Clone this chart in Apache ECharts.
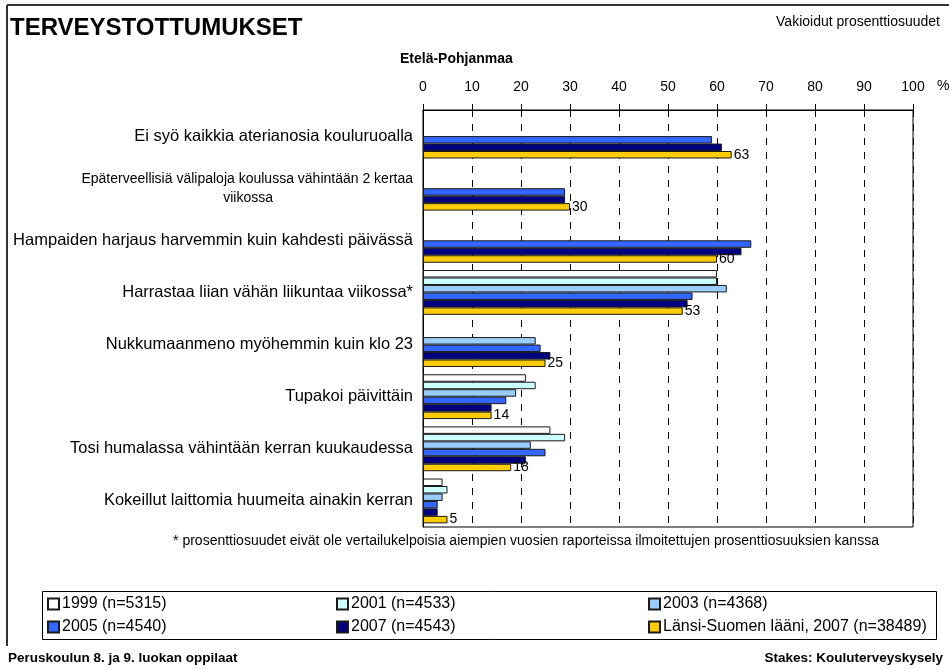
<!DOCTYPE html>
<html>
<head>
<meta charset="utf-8">
<script src="https://cdn.jsdelivr.net/npm/echarts@6/dist/echarts.min.js"></script>
<style>
html,body{margin:0;padding:0;background:#fff;}
#c{width:949px;height:669px;}
</style>
</head>
<body>
<div id="c"></div>
<script>
const categories = [
  "Ei syö kaikkia aterianosia kouluruoalla",
  "Epäterveellisiä välipaloja koulussa vähintään 2 kertaa\nviikossa",
  "Hampaiden harjaus harvemmin kuin kahdesti päivässä",
  "Harrastaa liian vähän liikuntaa viikossa*",
  "Nukkumaanmeno myöhemmin kuin klo 23",
  "Tupakoi päivittäin",
  "Tosi humalassa vähintään kerran kuukaudessa",
  "Kokeillut laittomia huumeita ainakin kerran"
];
const seriesNames = ["1999 (n=5315)", "2001 (n=4533)", "2003 (n=4368)", "2005 (n=4540)", "2007 (n=4543)", "Länsi-Suomen lääni, 2007 (n=38489)"];
const v1999 = [null, null, null, 60, null, 21, 26, 4];
const v2001 = [null, null, null, 60, null, 23, 29, 5];
const v2003 = [null, null, null, 62, 23, 19, 22, 4];
const v2005 = [59, 29, 67, 55, 24, 17, 25, 3];
const v2007 = [61, 29, 65, 54, 26, 14, 21, 3];
const vLansi = [63, 30, 60, 53, 25, 14, 18, 5];
const xTicks = [0, 10, 20, 30, 40, 50, 60, 70, 80, 90, 100];

const values = [v1999, v2001, v2003, v2005, v2007, vLansi];
const colors = ["#ffffff", "#ccffff", "#99ccff", "#3366ff", "#000080", "#ffcc00"];
const FONT = "Liberation Sans, Arial, sans-serif";

const chart = echarts.init(document.getElementById('c'), null, {renderer: 'canvas'});

const series = values.map((vals, i) => ({
  name: seriesNames[i],
  type: 'bar',
  data: vals,
  barGap: '0%',
  barCategoryGap: '14%',
  itemStyle: {color: colors[i], borderColor: '#1a1a1a', borderWidth: 1},
  emphasis: {disabled: true},
  label: i === 5 ? {show: true, position: 'right', distance: 2, color: '#000', fontSize: 14, fontFamily: FONT} : {show: false},
  animation: false
}));

const legendPos = [
  {left: 47, top: 596}, {left: 336, top: 596}, {left: 648, top: 596},
  {left: 47, top: 619}, {left: 336, top: 619}, {left: 648, top: 619}
];
const legends = seriesNames.map((n, i) => ({
  data: [n],
  left: legendPos[i].left,
  top: legendPos[i].top,
  padding: 0,
  icon: 'rect',
  itemWidth: 11,
  itemHeight: 11,
  selectedMode: false,
  textStyle: {fontSize: 16, color: '#000', fontFamily: FONT, padding: [0, 0, 0, -2]}
}));

chart.setOption({
  animation: false,
  backgroundColor: '#fff',
  textStyle: {fontFamily: FONT},
  grid: {left: 423, right: 36, top: 110, bottom: 142, show: true, borderColor: '#000', borderWidth: 1, containLabel: false},
  xAxis: {
    type: 'value', position: 'top', min: 0, max: 100, interval: 10,
    axisLine: {show: true, lineStyle: {color: '#000'}},
    axisTick: {show: true, length: 6, lineStyle: {color: '#000'}},
    axisLabel: {margin: 16, fontSize: 14, color: '#000', fontFamily: FONT, formatter: v => xTicks.includes(v) ? String(v) : ''},
    splitLine: {show: true, lineStyle: {color: '#000', type: [7, 7], width: 1}}
  },
  yAxis: {
    type: 'category', data: categories, inverse: true,
    axisLine: {show: true, lineStyle: {color: '#000'}},
    axisTick: {show: false},
    axisLabel: {
      margin: 10, fontSize: 16.5, color: '#000', fontFamily: FONT,
      formatter: function (v) {
        const parts = v.split('\n');
        if (parts.length > 1) return '{a|' + parts[0] + '}\n{b|' + parts[1] + '}';
        return v;
      },
      rich: {
        a: {fontSize: 14, fontFamily: FONT, color: '#000', lineHeight: 19},
        b: {fontSize: 14, fontFamily: FONT, color: '#000', lineHeight: 19, padding: [0, 140, 0, 0]}
      }
    }
  },
  legend: legends,
  series: series,
  graphic: [
    {type: 'line', shape: {x1: 7, y1: 5, x2: 949, y2: 5}, style: {stroke: '#333', lineWidth: 2}},
    {type: 'line', shape: {x1: 7, y1: 5, x2: 7, y2: 646}, style: {stroke: '#333', lineWidth: 2}},
    {type: 'text', left: 10, top: 16, style: {text: 'TERVEYSTOTTUMUKSET', fontSize: 24, fontWeight: 'bold', fill: '#000', fontFamily: FONT}},
    {type: 'text', right: 9, top: 15, style: {text: 'Vakioidut prosenttiosuudet', fontSize: 14, fill: '#000', fontFamily: FONT}},
    {type: 'text', left: 400, top: 52, style: {text: 'Etelä-Pohjanmaa', fontSize: 14, fontWeight: 'bold', fill: '#000', fontFamily: FONT}},
    {type: 'text', left: 937, top: 79, style: {text: '%', fontSize: 14, fill: '#000', fontFamily: FONT}},
    {type: 'text', x: 526, y: 541, style: {text: '* prosenttiosuudet eivät ole vertailukelpoisia aiempien vuosien raporteissa ilmoitettujen prosenttiosuuksien kanssa', fontSize: 14, fill: '#000', fontFamily: FONT, textAlign: 'center', textVerticalAlign: 'middle'}},
    {type: 'rect', shape: {x: 42.5, y: 591.5, width: 894, height: 48}, style: {fill: 'none', stroke: '#000', lineWidth: 1}},
    {type: 'text', left: 8, top: 651, style: {text: 'Peruskoulun 8. ja 9. luokan oppilaat', fontSize: 13.5, fontWeight: 'bold', fill: '#000', fontFamily: FONT}},
    {type: 'text', right: 6, top: 651, style: {text: 'Stakes: Kouluterveyskysely', fontSize: 13.5, fontWeight: 'bold', fill: '#000', fontFamily: FONT}}
  ]
});
</script>
</body>
</html>
